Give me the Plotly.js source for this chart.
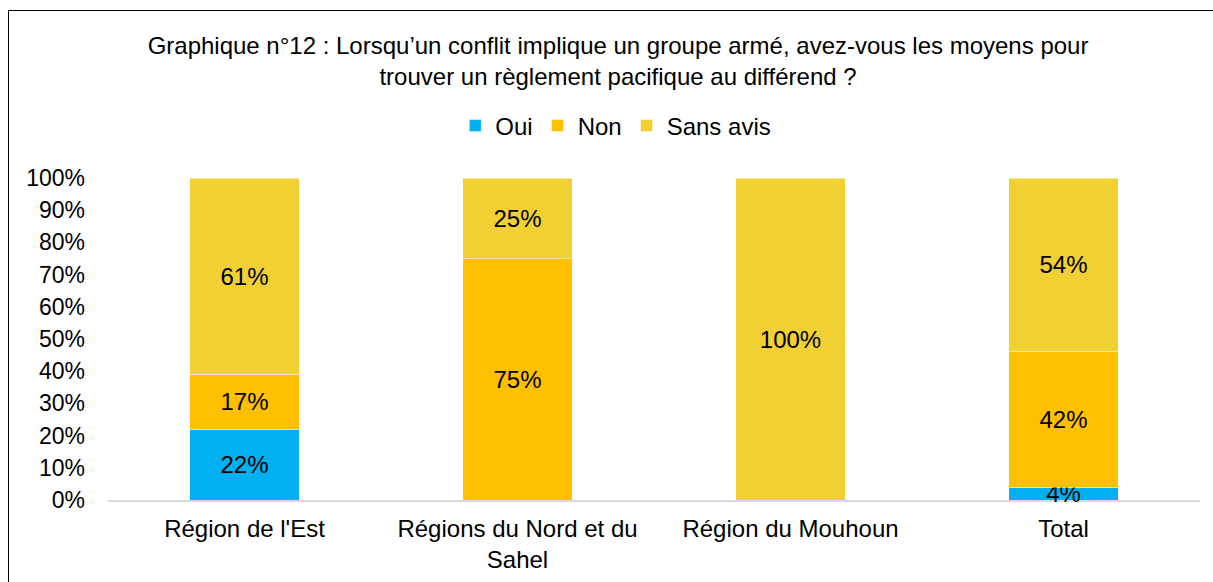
<!DOCTYPE html>
<html><head><meta charset="utf-8">
<script src="https://cdn.plot.ly/plotly-3.0.1.min.js"></script>
<style>
html,body{margin:0;padding:0;overflow:hidden;background:#fff;}
#wrap{position:relative;width:1213px;height:582px;}
#chart{width:1213px;height:582px;}
#frame{position:absolute;left:8px;top:10px;width:1300px;height:700px;border:1px solid #000;pointer-events:none;box-sizing:border-box;}
</style></head>
<body>
<div id="wrap"><div id="chart"></div><div id="frame"></div></div>
<script>
var categories = ["Région de l'Est", "Régions du Nord et du<br>Sahel", "Région du Mouhoun", "Total"];
var oui = [22, 0, 0, 4];
var non = [17, 75, 0, 42];
var sansAvis = [61, 25, 100, 54];
var yTicks = [0,10,20,30,40,50,60,70,80,90,100];

var FS = 24;
function lbl(a){ return a.map(function(v){ return v > 0 ? v + '%' : ''; }); }
function mk(name, vals, color){
  return {
    type: 'bar', name: name, x: categories, y: vals,
    text: lbl(vals), textposition: 'inside', insidetextanchor: 'middle',
    textfont: {family: 'Liberation Sans, Arial, sans-serif', size: FS, color: '#000'},
    marker: {color: color, line: {color: 'rgba(255,255,255,0.6)', width: 0.8}},
    width: 0.4, hoverinfo: 'skip', cliponaxis: false, constraintext: 'none'
  };
}
var data = [
  mk('Oui', oui, '#00B0F0'),
  mk('Non', non, '#FFC000'),
  mk('Sans avis', sansAvis, '#F0D032')
];
var layout = {
  width: 1213, height: 582,
  margin: {l: 108, r: 13, t: 178, b: 82},
  paper_bgcolor: '#fff', plot_bgcolor: '#fff',
  barmode: 'stack', bargap: 0.6,
  font: {family: 'Liberation Sans, Arial, sans-serif', size: FS, color: '#000'},
  uniformtext: {mode: 'show', minsize: FS},
  title: {
    text: 'Graphique n°12 : Lorsqu’un conflit implique un groupe armé, avez-vous les moyens pour<br>trouver un règlement pacifique au différend ?',
    font: {size: FS, color: '#000'},
    x: 0.5095, xanchor: 'center', xref: 'container',
    y: 0.907, yanchor: 'middle', yref: 'container'
  },
  showlegend: true,
  legend: {
    orientation: 'h', x: 0.465, xanchor: 'center', y: 1.1615, yanchor: 'middle',
    traceorder: 'normal', font: {size: FS}, itemwidth: 30
  },
  xaxis: {
    showline: true, linecolor: '#d9d9d9', linewidth: 2, ticks: '', showgrid: false,
    tickfont: {size: FS}, fixedrange: true, ticklabelstandoff: 6, layer: 'below traces'
  },
  yaxis: {
    range: [0, 100], tickvals: yTicks, ticktext: yTicks.map(function(v){return v+'%';}),
    showgrid: false, zeroline: false, showline: false, ticks: '',
    tickfont: {size: 23}, ticklabelstandoff: 22, fixedrange: true
  }
};
Plotly.newPlot('chart', data, layout, {displayModeBar: false, staticPlot: true});
</script>
</body></html>
